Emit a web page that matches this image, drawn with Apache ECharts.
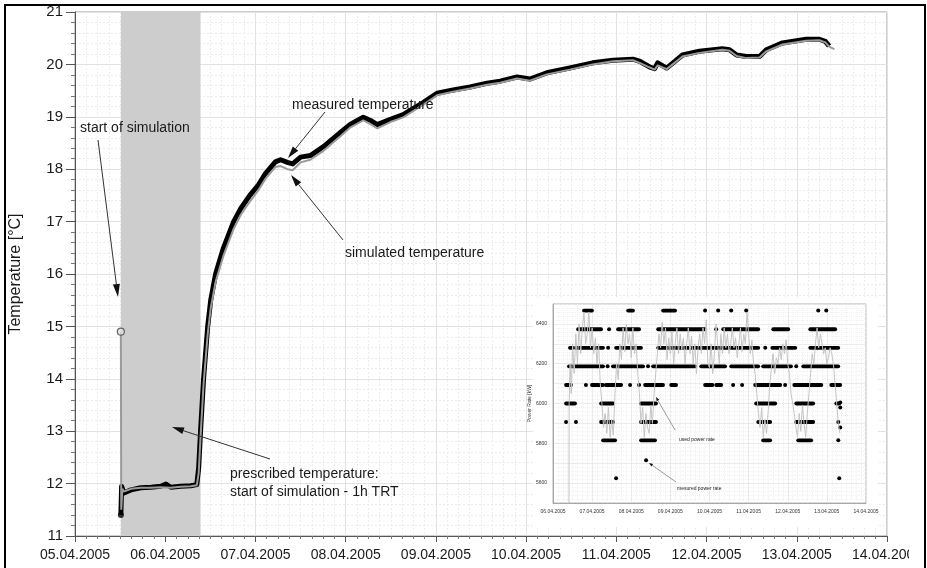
<!DOCTYPE html>
<html><head><meta charset="utf-8">
<script src="https://cdn.jsdelivr.net/npm/echarts/dist/echarts.min.js"></script>
<style>html,body{margin:0;padding:0;background:#fff}#c{width:927px;height:568px}</style>
</head><body><div id="c"></div>
<script>
// ---- tick labels (x values are hours since 05.04.2005 00:00) ----
const mainTickLabels = ['05.04.2005','06.04.2005','07.04.2005','08.04.2005','09.04.2005','10.04.2005','11.04.2005','12.04.2005','13.04.2005','14.04.2005'];
const insetTickLabels = ['06.04.2005','07.04.2005','08.04.2005','09.04.2005','10.04.2005','11.04.2005','12.04.2005','13.04.2005','14.04.2005'];

// ---- main chart: temperature [°C] ----
const measuredTemp = [[12.2,11.4],[12.4,11.95],[13.0,11.82],[14.9,11.88],[17.5,11.92],[20.2,11.93],[22.8,11.95],[24.2,11.99],[25.5,11.93],[28.1,11.95],[30.8,11.96],[32.4,11.98],[32.9,12.3],[33.4,13.0],[34.2,14.0],[35.3,15.0],[36.1,15.5],[37.4,16.0],[39.5,16.5],[42.2,17.0],[44.1,17.25],[46.5,17.5],[48.6,17.68],[50.7,17.92],[53.3,18.14],[54.7,18.18],[56.5,18.13],[57.9,18.1],[60.0,18.23],[62.6,18.26],[66.1,18.43],[70.6,18.7],[73.3,18.86],[76.7,18.99],[78.6,18.93],[80.4,18.85],[83.9,18.95],[87.3,19.04],[92.6,19.27],[96.3,19.45],[100.6,19.51],[105.1,19.57],[109.6,19.64],[113.1,19.68],[117.6,19.76],[121.0,19.72],[125.5,19.84],[131.6,19.93],[137.7,20.03],[143.1,20.08],[148.4,20.1],[150.2,20.06],[152.9,19.95],[154.2,19.92],[155.0,20.03],[157.4,19.93],[161.6,20.18],[166.1,20.25],[172.2,20.3],[174.1,20.28],[176.0,20.18],[178.6,20.15],[182.1,20.15],[183.9,20.28],[188.2,20.41],[194.5,20.48],[198.0,20.48],[199.6,20.44],[200.6,20.35]];
const simulatedTemp = [[12.2,14.9],[12.3,11.5],[12.6,11.9],[13.0,11.85],[14.9,11.9],[17.5,11.92],[20.2,11.92],[22.8,11.93],[25.5,11.92],[28.1,11.94],[30.8,11.95],[32.4,11.97],[32.9,12.2],[33.4,12.9],[34.2,13.9],[35.3,14.85],[36.1,15.35],[37.4,15.85],[39.5,16.35],[42.2,16.86],[44.1,17.13],[46.5,17.38],[48.6,17.58],[50.7,17.82],[53.3,18.04],[54.7,18.06],[56.5,18.0],[57.9,17.98],[60.0,18.13],[62.6,18.18],[66.1,18.35],[70.6,18.63],[73.3,18.8],[76.7,18.93],[78.6,18.86],[80.4,18.78],[83.9,18.9],[87.3,18.99],[92.6,19.23],[96.3,19.41],[100.6,19.48],[105.1,19.54],[109.6,19.61],[113.1,19.65],[117.6,19.73],[121.0,19.69],[125.5,19.81],[131.6,19.9],[137.7,20.0],[143.1,20.06],[148.4,20.08],[150.2,20.03],[152.9,19.94],[154.2,19.9],[155.0,19.98],[157.4,19.91],[161.6,20.15],[166.1,20.22],[172.2,20.28],[174.1,20.26],[176.0,20.16],[178.6,20.12],[182.1,20.13],[183.9,20.25],[188.2,20.38],[194.5,20.45],[198.0,20.46],[199.6,20.42],[200.6,20.34],[202.0,20.29]];
const prescribedBand = [12.2, 33.4];

// ---- inset: power rate [kW] ----
// measured power: runs of samples at one level [startHour, endHour, kW]
const measuredPowerRuns = [
 [43.0,47.9,6467],[70.1,73.1,6467],[91.5,98.9,6467],[117.3,117.3,6467],[125.3,125.3,6467],[133.3,133.3,6467],[142.5,142.5,6467],[186.7,186.7,6467],[191.6,191.6,6467],
 [39.4,53.5,6373],[58.4,58.4,6373],[63.9,76.8,6373],[88.5,117.3,6373],[124.1,124.1,6373],[128.4,149.9,6373],[159.1,168.3,6373],[181.8,197.1,6373],
 [34.4,36.2,6280],[37.9,54.7,6280],[57.8,57.8,6280],[62.7,78.0,6280],[88.5,149.9,6280],[154.2,154.2,6280],[158.5,172.6,6280],[181.8,199.0,6280],
 [33.8,54.7,6187],[57.5,57.5,6187],[60.8,79.3,6187],[82.3,82.3,6187],[85.4,111.2,6187],[114.9,129.6,6187],[133.3,149.9,6187],[152.9,170.0,6187],[173.2,173.2,6187],[177.5,199.0,6187],
 [32.0,35.0,6093],[44.2,44.2,6093],[47.9,54.7,6093],[56.5,65.8,6093],[71.3,71.3,6093],[76.8,76.8,6093],[80.5,91.5,6093],[96.5,99.5,6093],[117.3,121.8,6093],[124.1,127.2,6093],[134.5,134.5,6093],[140.0,140.0,6093],[148.0,163.4,6093],[166.4,166.4,6093],[172.0,188.6,6093],[194.7,200.2,6093],
 [32.0,37.5,6000],[53.5,60.8,6000],[78.0,87.2,6000],[148.6,160.3,6000],[173.2,183.6,6000],[197.8,199.5,6000],
 [32.0,32.0,5907],[38.1,38.1,5907],[53.5,60.8,5907],[78.0,87.2,5907],[149.9,157.2,5907],[173.2,183.6,5907],[199.0,199.0,5907],
 [54.7,62.1,5815],[78.0,86.6,5815],[152.9,157.2,5815],[174.4,182.4,5815],[199.0,199.0,5815],
 [81.1,81.1,5715],[62.7,62.7,5625],[199.6,199.6,5625],[200.2,200.2,6005],[200.2,200.2,5980],[200.2,200.2,5880]
];
const usedPower = [[33.8,5500],[33.9,6000],[34.5,6200],[35.2,6050],[36,6300],[37,6150],[38,6350],[39,6200],[40,6400],[41,6250],[42,6380],[43,6460],[44,6300],[45,6350],[46,6460],[47,6280],[48,6380],[49,6250],[50,6330],[51,6200],[52,6300],[53,6100],[54,6000],[55,5880],[56,5950],[57,5850],[58,5980],[59,5830],[60,5920],[61,5840],[62,6050],[63,6200],[64,6120],[65,6300],[66,6220],[67,6380],[68,6260],[69,6400],[70,6300],[71,6350],[72,6230],[73,6380],[74,6250],[75,6300],[76,6150],[77,6050],[78,5900],[79,5980],[80,5830],[81,5950],[82,5880],[83,5850],[84,5990],[85,5900],[86,6050],[87,6150],[88,6250],[89,6350],[90,6280],[91,6410],[92,6300],[93,6380],[94,6220],[95,6330],[96,6250],[97,6360],[98,6200],[99,6300],[100,6380],[101,6250],[102,6350],[103,6270],[104,6330],[105,6200],[106,6300],[107,6380],[108,6250],[109,6340],[110,6200],[111,6300],[112,6150],[113,6280],[114,6350],[115,6250],[116,6380],[117,6300],[118,6420],[119,6200],[120,6180],[121,6300],[122,6150],[123,6250],[124,6400],[125,6300],[126,6200],[127,6350],[128,6250],[129,6380],[130,6280],[131,6350],[132,6250],[133,6300],[134,6380],[135,6280],[136,6330],[137,6230],[138,6300],[139,6380],[140,6260],[141,6350],[142,6300],[143,6460],[144,6350],[145,6250],[146,6320],[147,6200],[148,6150],[149,6050],[150,5950],[151,5880],[152,5980],[153,5830],[154,5920],[155,5850],[156,5960],[157,6100],[158,6180],[159,6250],[160,6150],[161,6230],[162,6200],[163,6280],[164,6220],[165,6300],[166,6250],[167,6320],[168,6200],[169,6150],[170,6050],[171,6000],[172,5950],[173,5880],[174,5830],[175,5950],[176,5860],[177,5990],[178,5900],[179,5830],[180,5950],[181,6050],[182,6150],[183,6250],[184,6200],[185,6300],[186,6380],[187,6280],[188,6350],[189,6300],[190,6250],[191,6280],[192,6200],[193,6230],[194,6280],[195,6250],[196,6200],[197,6100],[198,6000],[199,5900],[200,5850]];

const FONT = '"Liberation Sans", Arial, sans-serif';

function arrow(x1, y1, x2, y2, len, wid, color, lw, z) {
  const dx = x2 - x1, dy = y2 - y1, d = Math.hypot(dx, dy);
  const ux = dx / d, uy = dy / d, nx = -uy, ny = ux;
  const bx = x2 - ux * len, by = y2 - uy * len;
  return [
    { type: 'line', z: z, silent: true, shape: { x1: x1, y1: y1, x2: bx, y2: by }, style: { stroke: color, lineWidth: lw } },
    { type: 'polygon', z: z, silent: true, shape: { points: [[x2, y2], [bx + nx * wid / 2, by + ny * wid / 2], [bx - nx * wid / 2, by - ny * wid / 2]] }, style: { fill: '#111' } }
  ];
}
function label(text, x, y, size, z) {
  return { type: 'text', z: z, silent: true, x: x, y: y, style: { text: text, font: size + 'px ' + FONT, fill: '#1a1a1a', verticalAlign: 'middle', align: 'left' } };
}

const chart = echarts.init(document.getElementById('c'), null, { renderer: 'canvas' });

const gridLineMajor = { show: true, lineStyle: { color: '#e2e2e2', width: 1, type: 'solid' } };
const gridLineMinor = { show: true, lineStyle: { color: '#ececec', width: 1, type: [2, 2] } };

const graphics = [
  { type: 'rect', z: 9, silent: true, shape: { x: 533, y: 297, width: 345, height: 230 }, style: { fill: '#fff' } },
  { type: 'rect', z: 30, silent: true, shape: { x: 909, y: 540, width: 15, height: 22 }, style: { fill: '#fff' } },
  { type: 'rect', z: 31, silent: true, shape: { x: 5, y: 5, width: 920, height: 600 }, style: { fill: 'none', stroke: '#000', lineWidth: 2 } },
  label('start of simulation', 80, 128, 14, 20),
  label('measured temperature', 292, 105, 14, 20),
  label('simulated temperature', 345, 253, 14, 20),
  label('prescribed temperature:', 230, 474, 14, 20),
  label('start of simulation - 1h TRT', 230, 492, 14, 20),
  label('used power rate', 679, 440, 5, 20),
  label('mesured power rate', 677, 489, 5, 20)
].concat(
  arrow(98, 140, 118, 297, 13, 7, '#333', 1, 20),
  arrow(325, 112, 288, 158, 12, 7, '#333', 1, 20),
  arrow(343, 240, 291, 175, 12, 7, '#333', 1, 20),
  arrow(270, 459, 172, 427, 12, 7, '#333', 1, 20),
  arrow(675, 430, 656, 397, 4, 3, '#555', 0.6, 20),
  arrow(676, 482, 649, 463, 4, 3, '#555', 0.6, 20)
);

chart.setOption({
  animation: false,
  backgroundColor: '#fff',
  grid: [
    { left: 74, right: 40, top: 12, bottom: 32, show: true, borderColor: '#9a9a9a', borderWidth: 1, backgroundColor: 'transparent' },
    { left: 553, top: 304, width: 313, height: 199, show: true, z: 10, borderColor: '#b0b0b0', borderWidth: 1, backgroundColor: 'transparent' }
  ],
  xAxis: [
    { type: 'value', gridIndex: 0, min: 0, max: 216, interval: 24,
      axisLine: { show: true, lineStyle: { color: '#555' } },
      axisTick: { show: true, length: 6, lineStyle: { color: '#555' } },
      minorTick: { show: true, splitNumber: 8, length: 3, lineStyle: { color: '#777' } },
      splitLine: gridLineMajor, minorSplitLine: gridLineMinor,
      axisLabel: { fontSize: 14, fontFamily: FONT, color: '#1a1a1a', margin: 12, showMaxLabel: true, showMinLabel: true,
        formatter: v => mainTickLabels[Math.round(v / 24)] } },
    { type: 'value', gridIndex: 1, min: 24, max: 216, interval: 24, z: 10,
      axisLine: { show: true, lineStyle: { color: '#999', width: 0.8 } },
      axisTick: { show: false },
      splitLine: { show: true, lineStyle: { color: '#e6e6e6', width: 0.8 } },
      minorTick: { show: false, splitNumber: 8 },
      minorSplitLine: { show: true, lineStyle: { color: '#efefef', width: 0.8, type: [1, 1] } },
      axisLabel: { fontSize: 5, fontFamily: FONT, color: '#333', margin: 6, showMaxLabel: true,
        formatter: v => insetTickLabels[Math.round((v - 24) / 24)] } }
  ],
  yAxis: [
    { type: 'value', gridIndex: 0, min: 11, max: 21, interval: 1,
      name: 'Temperature [°C]', nameLocation: 'middle', nameGap: 51,
      nameTextStyle: { fontSize: 16, fontFamily: FONT, color: '#1a1a1a' },
      axisLine: { show: true, lineStyle: { color: '#555' } },
      axisTick: { show: true, length: 9, lineStyle: { color: '#555' } },
      minorTick: { show: true, splitNumber: 5, length: 4, lineStyle: { color: '#777' } },
      splitLine: gridLineMajor, minorSplitLine: gridLineMinor,
      axisLabel: { fontSize: 15, fontFamily: FONT, color: '#1a1a1a', margin: 12 } },
    { type: 'value', gridIndex: 1, min: 5500, max: 6500, interval: 100, z: 10,
      name: 'Power Rate [kW]', nameLocation: 'middle', nameGap: 18,
      nameTextStyle: { fontSize: 5, fontFamily: FONT, color: '#333' },
      axisLine: { show: true, lineStyle: { color: '#999', width: 0.8 } },
      axisTick: { show: false },
      splitLine: { show: true, lineStyle: { color: '#e6e6e6', width: 0.8 } },
      minorSplitLine: { show: true, lineStyle: { color: '#efefef', width: 0.8, type: [1, 1] } },
      minorTick: { show: false, splitNumber: 5 },
      axisLabel: { fontSize: 5, fontFamily: FONT, color: '#333', margin: 6,
        formatter: v => (v % 200 === 0 ? String(v) : '') } }
  ],
  series: [
    { name: 'measured temperature', type: 'line', xAxisIndex: 0, yAxisIndex: 0, data: measuredTemp,
      showSymbol: false, lineStyle: { color: '#000', width: 5, join: 'round' }, z: 2, silent: true,
      markArea: { silent: true, itemStyle: { color: '#cdcdcd' }, data: [[{ xAxis: prescribedBand[0] }, { xAxis: prescribedBand[1] }]] } },
    { name: 'simulated temperature', type: 'line', xAxisIndex: 0, yAxisIndex: 0, data: simulatedTemp,
      showSymbol: false, lineStyle: { color: '#9a9a9a', width: 2 }, z: 3, silent: true },
    { type: 'scatter', xAxisIndex: 0, yAxisIndex: 0, data: [measuredTemp[0]], symbolSize: 6, itemStyle: { color: '#000' }, z: 4, silent: true },
    { type: 'scatter', xAxisIndex: 0, yAxisIndex: 0, data: [simulatedTemp[0]], symbolSize: 7, itemStyle: { color: '#e0e0e0', borderColor: '#444', borderWidth: 1.2 }, z: 4, silent: true },
    { name: 'measured power rate', type: 'custom', xAxisIndex: 1, yAxisIndex: 1, data: measuredPowerRuns, z: 12, silent: true,
      encode: { x: [0, 1], y: 2 },
      renderItem: function (params, api) {
        const p1 = api.coord([api.value(0), api.value(2)]);
        const p2 = api.coord([api.value(1), api.value(2)]);
        if (Math.abs(p2[0] - p1[0]) < 0.5) {
          return { type: 'circle', shape: { cx: p1[0], cy: p1[1], r: 2 }, style: { fill: '#000' } };
        }
        return { type: 'line', shape: { x1: p1[0], y1: p1[1], x2: p2[0], y2: p2[1] }, style: { stroke: '#000', lineWidth: 3.8, lineCap: 'round' } };
      } },
    { name: 'used power rate', type: 'line', xAxisIndex: 1, yAxisIndex: 1, data: usedPower,
      showSymbol: false, lineStyle: { color: '#c4c4c4', width: 1 }, z: 13, silent: true }
  ],
  graphic: { elements: graphics }
});
</script>
</body></html>
